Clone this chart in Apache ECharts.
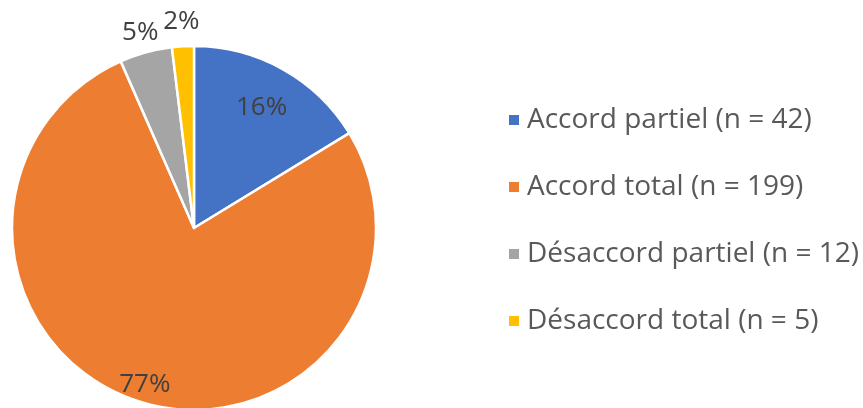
<!DOCTYPE html>
<html lang="fr">
<head>
    <meta charset="UTF-8">
    <title>Accord</title>
    <script src="https://cdn.jsdelivr.net/npm/echarts@6/dist/echarts.min.js"></script>
    <style>
        html, body { margin: 0; padding: 0; background: #fff; }
        #main { width: 863px; height: 408px; }
    </style>
</head>
<body>
<div id="main"></div>
<script type="text/javascript">
    // données
    var categories = ['Accord partiel (n = 42)', 'Accord total (n = 199)', 'Désaccord partiel (n = 12)', 'Désaccord total (n = 5)'];
    var counts = [42, 199, 12, 5];
    var percentLabels = ['16%', '77%', '5%', '2%'];
    var colors = ['#4472C4', '#ED7D31', '#A5A5A5', '#FFC000'];

    // distance des étiquettes au centre (px)
    var labelDist = [135, 161, 200, 204];

    var myChart = echarts.init(document.getElementById('main'));

    var center = [194, 228];

    var pieData = categories.map(function (name, i) {
        return { name: name, value: counts[i], itemStyle: { color: colors[i] } };
    });

    var series = [{
        type: 'pie',
        center: center,
        radius: 182,
        startAngle: 90,
        clockwise: true,
        silent: true,
        label: { show: false },
        labelLine: { show: false },
        itemStyle: { borderColor: '#fff', borderWidth: 2.5 },
        data: pieData
    }];

    // une pie transparente par étiquette
    labelDist.forEach(function (d, k) {
        series.push({
            type: 'pie',
            center: center,
            radius: [0, d * 2],
            startAngle: 90,
            silent: true,
            legendHoverLink: false,
            itemStyle: { color: 'transparent' },
            labelLine: { show: false },
            label: {
                position: 'inside',
                color: '#404040',
                fontSize: 26,
                fontFamily: 'Open Sans'
            },
            data: categories.map(function (name, i) {
                return {
                    name: name,
                    value: counts[i],
                    label: { show: i === k, formatter: percentLabels[i] }
                };
            })
        });
    });

    var option = {
        animation: false,
        legend: {
            orient: 'vertical',
            left: 502,
            top: 101,
            icon: 'rect',
            itemWidth: 12,
            itemHeight: 12,
            itemGap: 39,
            data: categories,
            textStyle: {
                color: '#595959',
                fontSize: 28,
                lineHeight: 28,
                fontFamily: 'Open Sans',
                padding: [0, 0, 0, 2]
            }
        },
        series: series
    };

    myChart.setOption(option);
</script>
</body>
</html>
